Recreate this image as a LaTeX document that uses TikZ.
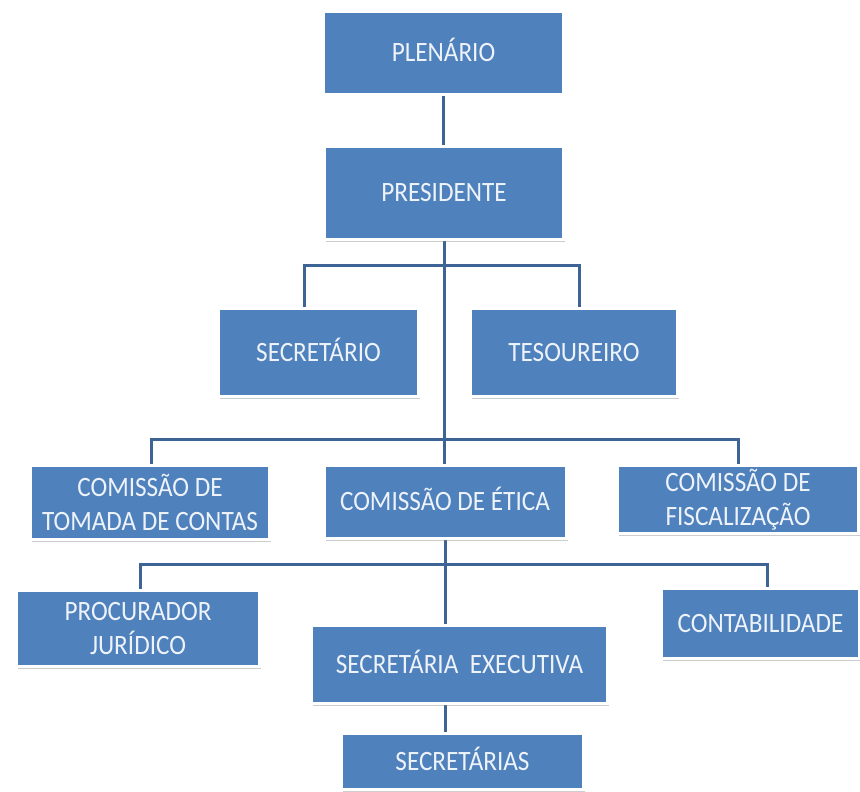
\documentclass[tikz,border=0pt]{standalone}
\usepackage{fontspec}
\setmainfont{Carlito}[FakeStretch=0.9]
\usetikzlibrary{shadows,backgrounds}
\definecolor{boxblue}{HTML}{4F81BD}
\definecolor{linkblue}{HTML}{3E6496}
\definecolor{boxtext}{HTML}{EEF3F9}
\tikzset{
  orgbox/.style={draw=white, line width=3pt, fill=boxblue, text=boxtext,
    align=center, inner sep=2pt, font=\fontsize{28}{34}\selectfont,
    drop shadow={shadow xshift=1.5pt, shadow yshift=-2pt, opacity=0.4}},
  oneline/.style={text height=17pt, text depth=0pt},
  link/.style={draw=linkblue, line width=3pt}
}
\begin{document}
\begin{tikzpicture}[x=1pt,y=-1pt]
\useasboundingbox (0,0) rectangle (860,792);
\node[orgbox, oneline, minimum width=240pt, minimum height=83pt] (plen) at (443.5,53) {PLENÁRIO};
\node[orgbox, oneline, minimum width=239pt, minimum height=93pt] (pres) at (444,193) {PRESIDENTE};
\node[orgbox, oneline, minimum width=200pt, minimum height=88pt] (secr) at (318.5,352.5) {SECRETÁRIO};
\node[orgbox, oneline, minimum width=207pt, minimum height=88pt] (tes) at (574,352.5) {TESOUREIRO};
\node[orgbox, minimum width=239pt, minimum height=74pt] (tom) at (150,502.5) {COMISSÃO DE\\TOMADA DE CONTAS};
\node[orgbox, oneline, minimum width=242pt, minimum height=73pt] (etica) at (445,502) {COMISSÃO DE ÉTICA};
\node[orgbox, minimum width=241pt, minimum height=68pt] (fisc) at (738,499.5) {COMISSÃO DE\\FISCALIZAÇÃO};
\node[orgbox, minimum width=243pt, minimum height=76pt] (proc) at (138,628.5) {PROCURADOR\\JURÍDICO};
\node[orgbox, oneline, minimum width=198pt, minimum height=70pt] (cont) at (760.5,623.5) {CONTABILIDADE};
\node[orgbox, oneline, minimum width=296pt, minimum height=78pt] (sexec) at (459.5,664.5) {SECRETÁRIA\ \ EXECUTIVA};
\node[orgbox, oneline, minimum width=242pt, minimum height=56pt] (secs) at (462.5,761.5) {SECRETÁRIAS};
\coordinate (h1l) at (304,265);
\coordinate (h1r) at (579,265);
\coordinate (h2l) at (151,439);
\coordinate (h2r) at (738,439);
\coordinate (h3l) at (140,564);
\coordinate (h3r) at (767,564);
\begin{pgfonlayer}{background}
\draw[link] (plen.south) -- (plen.south |- pres.north);
\draw[link] (pres.south) -- (pres.south |- etica.north);
\draw[link] (h1l |- secr.north) -- (h1l) -- (h1r) -- (h1r |- tes.north);
\draw[link] (h2l |- tom.north) -- (h2l) -- (h2r) -- (h2r |- fisc.north);
\draw[link] (etica.south) -- (etica.south |- sexec.north);
\draw[link] (h3l |- proc.north) -- (h3l) -- (h3r) -- (h3r |- cont.north);
\draw[link] (etica.south |- sexec.south) -- (etica.south |- secs.north);
\end{pgfonlayer}
\end{tikzpicture}
\end{document}
